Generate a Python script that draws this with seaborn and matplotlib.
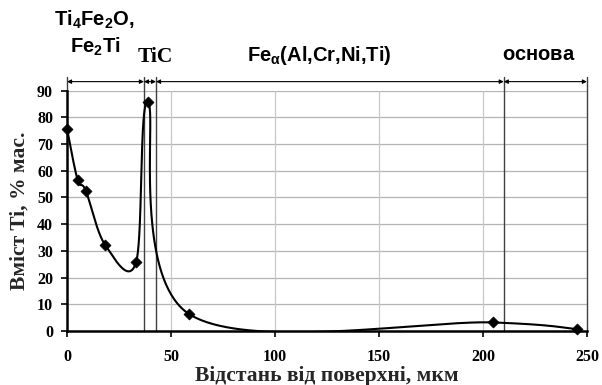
import numpy as np
import pandas as pd
import matplotlib
matplotlib.use("Agg")
import matplotlib.pyplot as plt
import seaborn as sns

# ---- data ----
distance = [0, 5.1, 9.0, 18.3, 33.2, 39.0, 58.8, 205.0, 245.0]
ti_content = [75.8, 56.6, 52.6, 32.3, 25.7, 85.6, 6.3, 3.2, 0.7]
zone_bounds = [0, 37.0, 42.8, 210.0, 250.0]
x_ticks = [0, 50, 100, 150, 200, 250]
y_ticks = [0, 10, 20, 30, 40, 50, 60, 70, 80, 90]

sns.set_theme(style="white")
plt.rcParams['font.family'] = ['Liberation Serif', 'DejaVu Serif']
plt.rcParams['mathtext.fontset'] = 'custom'
plt.rcParams['mathtext.rm'] = 'Liberation Sans:bold'
plt.rcParams['mathtext.it'] = 'Liberation Sans:bold'
plt.rcParams['mathtext.bf'] = 'Liberation Sans:bold'


def excel_smooth(xs, ys, n=80):
    P = np.column_stack([xs, ys]).astype(float)
    m = len(P)
    out = []
    for i in range(m - 1):
        p0 = P[i - 1] if i > 0 else P[i]
        p1 = P[i]
        p2 = P[i + 1]
        p3 = P[i + 2] if i + 2 < m else P[i + 1]
        c1 = p1 + (p2 - p0) / 6.0
        c2 = p2 - (p3 - p1) / 6.0
        t = np.linspace(0, 1, n)[:, None]
        seg = ((1 - t) ** 3) * p1 + 3 * t * (1 - t) ** 2 * c1 + 3 * t ** 2 * (1 - t) * c2 + t ** 3 * p2
        out.append(seg if i == 0 else seg[1:])
    return np.vstack(out)


curve = excel_smooth(distance, ti_content)
curve_df = pd.DataFrame({"x": curve[:, 0], "y": curve[:, 1]})
pts_df = pd.DataFrame({"x": distance, "y": ti_content})

fig = plt.figure(figsize=(6.02, 3.85), dpi=100)
ax = fig.add_axes([0.1113, 0.1403, 0.975 - 0.1113, 0.7644 - 0.1403])

ax.set_xlim(0, 250)
ax.set_ylim(0, 90)
ax.set_xticks(x_ticks)
ax.set_yticks(y_ticks)

# grid
for yv in y_ticks[1:]:
    ax.axhline(yv, color="#b4b4b4", lw=0.9, zorder=0)
for xv in x_ticks[1:-1]:
    ax.axvline(xv, color="#c8c8c8", lw=0.9, zorder=0)

sns.lineplot(data=curve_df, x="x", y="y", sort=False, estimator=None, color="black",
             lw=1.5, ax=ax, zorder=3)
sns.scatterplot(data=pts_df, x="x", y="y", marker="D", s=32, color="black",
                edgecolor="black", ax=ax, zorder=4, clip_on=False)

# zone boundaries
top_line = 95.2
arrow_y = 93.4
for b in zone_bounds[1:]:
    ax.plot([b, b], [0, top_line], color="#404040", lw=1.0, clip_on=False, zorder=2)
ax.plot([0, 0], [90, top_line], color="#404040", lw=1.0, clip_on=False, zorder=2)
for a, b in zip(zone_bounds[:-1], zone_bounds[1:]):
    ax.annotate("", xy=(b, arrow_y), xytext=(a, arrow_y), xycoords="data",
                arrowprops=dict(arrowstyle="<|-|>", color="black", lw=0.8,
                                mutation_scale=6, shrinkA=0, shrinkB=0),
                annotation_clip=False)

lab_kw = dict(ha="center", va="center", fontsize=14.5, color="black", clip_on=False)
ax.text(13.0, 116.5, r"$\mathrm{Ti_4Fe_2O{,}}$", **lab_kw)
ax.text(13.5, 106.4, r"$\mathrm{Fe_2Ti}$", **lab_kw)
ax.text(42.3, 102.6, "TiC", ha="center", va="center", fontsize=15.5, fontweight="bold",
        fontfamily="Liberation Serif", color="black", clip_on=False)
ax.text(121.5, 103.2, r"$\mathrm{Fe_{\alpha}(Al{,}Cr{,}Ni{,}Ti)}$", **lab_kw)
ax.text(227.0, 103.2, r"$\mathrm{основа}$", **lab_kw)

ax.set_xlabel("Відстань від поверхні, мкм", fontsize=15.5, fontweight="bold", labelpad=1)
ax.set_ylabel("Вміст Ti, % мас.", fontsize=15.5, fontweight="bold", labelpad=5)

for lbl in ax.get_xticklabels() + ax.get_yticklabels():
    lbl.set_fontweight("bold")
    lbl.set_fontsize(11.5)
ax.tick_params(axis="x", direction="out", length=4, width=1.2, pad=9, colors="black", bottom=True)
ax.tick_params(axis="y", direction="out", length=4, width=1.2, pad=6, colors="black", left=True)

for s in ["top", "right"]:
    ax.spines[s].set_visible(False)
for s in ["left", "bottom"]:
    ax.spines[s].set_color("black")
    ax.spines[s].set_linewidth(1.8)

fig.savefig("out.png", dpi=100)
